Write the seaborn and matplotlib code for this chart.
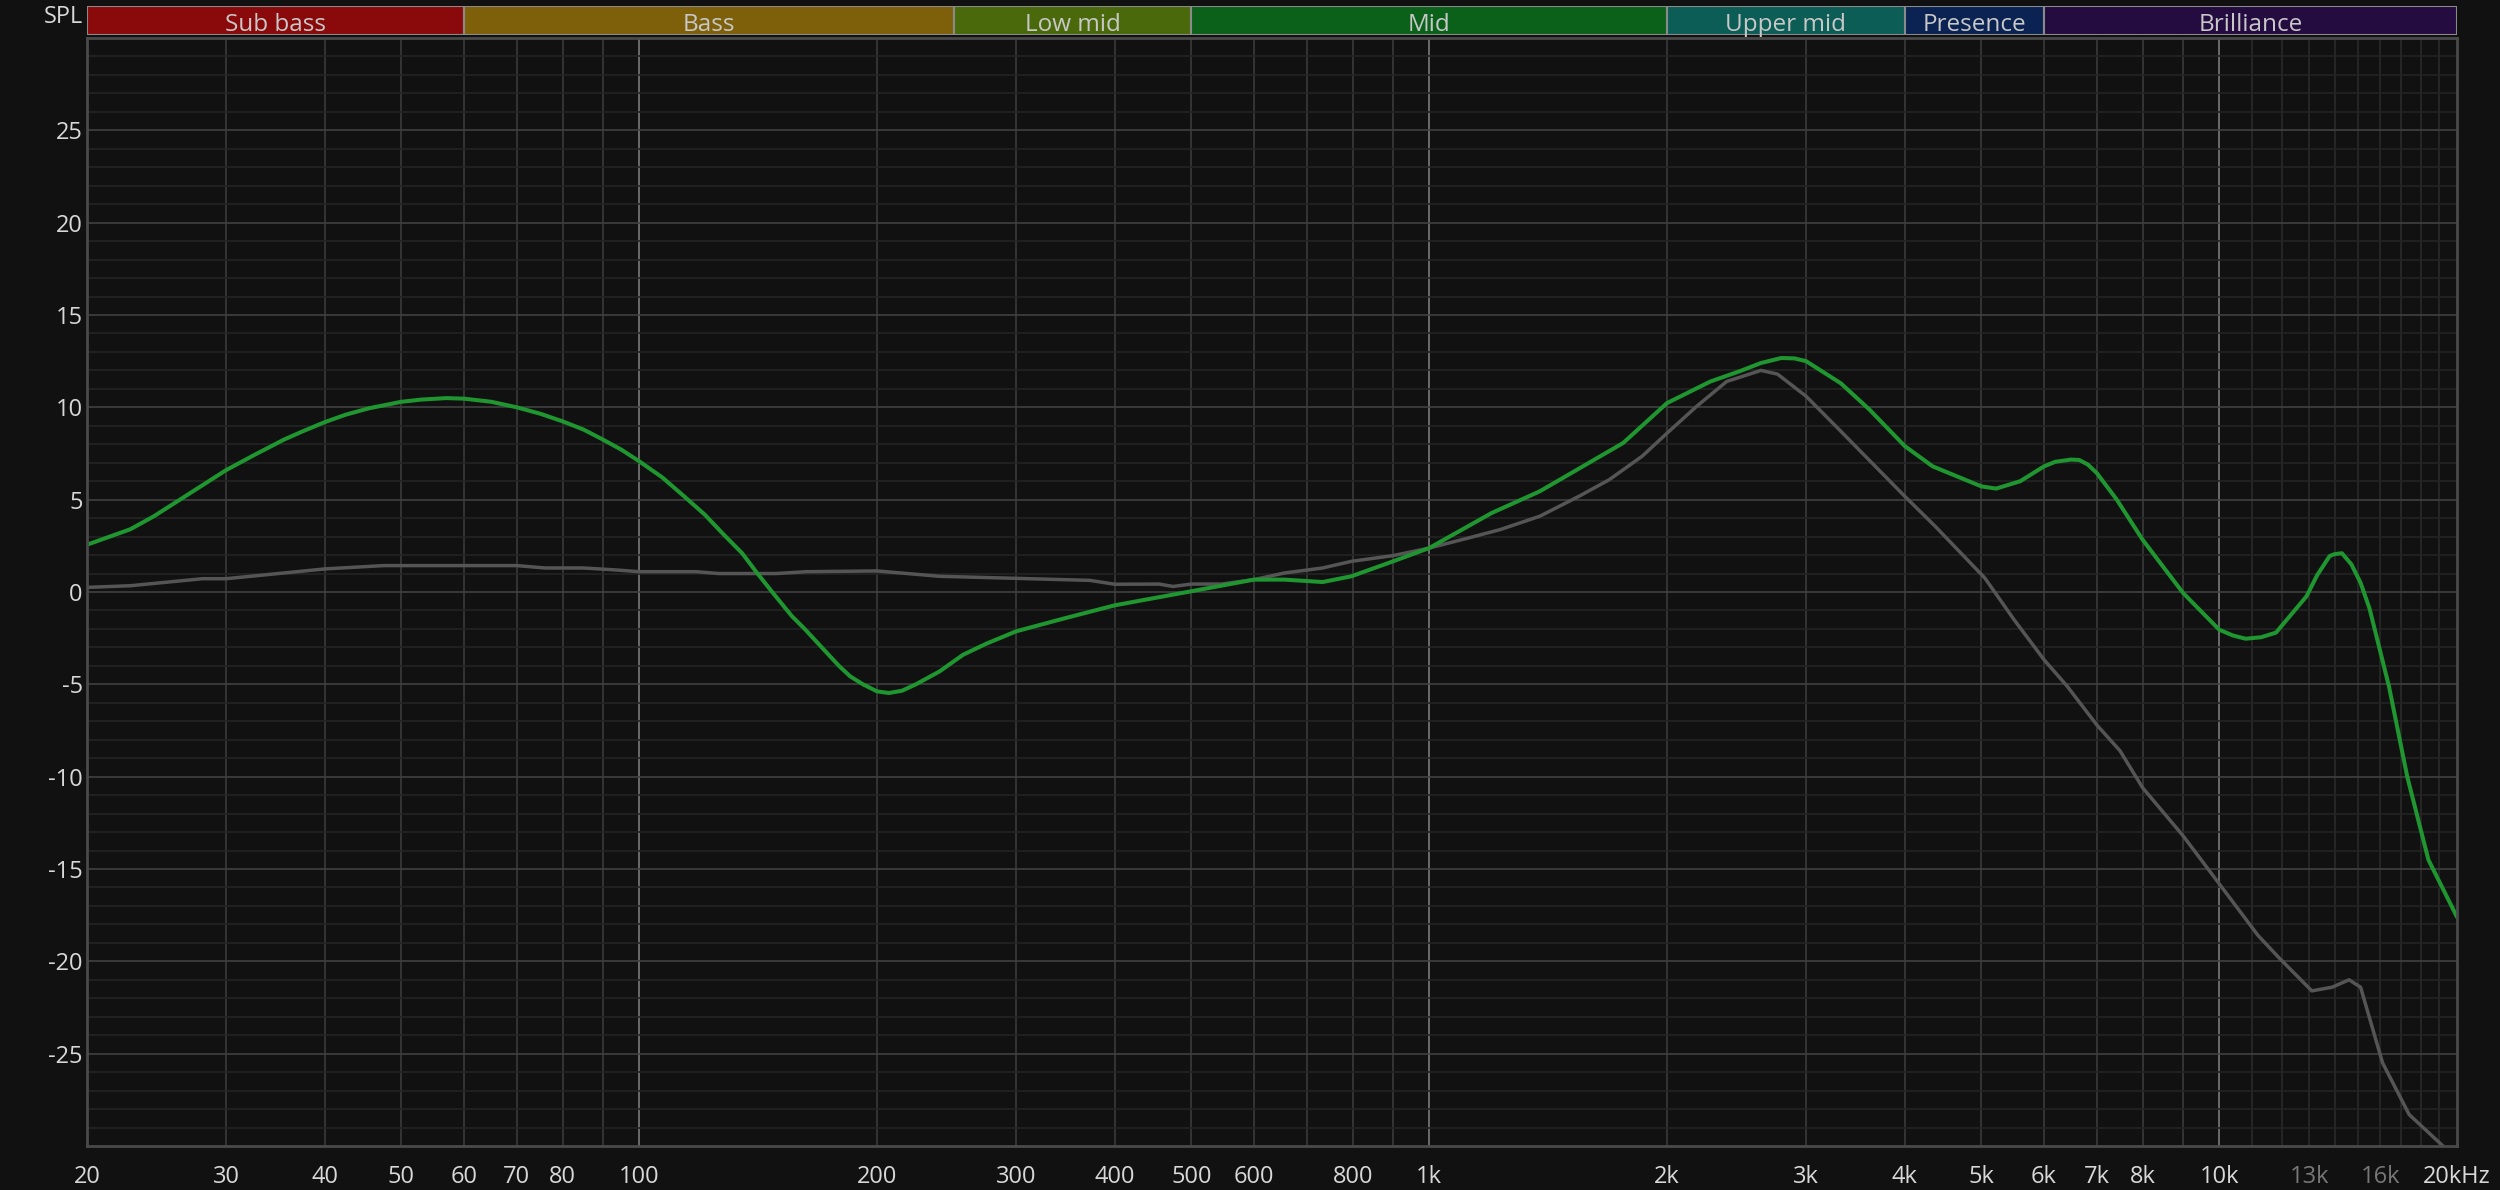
# frequency response chart (dark theme)
import seaborn as sns
import matplotlib.pyplot as plt
import numpy as np

# measured curve (green)
freq_green = [20, 22.7, 24.3, 26, 30, 32.5, 35.5, 37.5, 40, 42.5, 45.5, 50, 53, 57, 60, 65, 70, 75,
              80, 85, 90, 95, 100, 107, 114, 121, 128, 135, 141, 148, 156, 162, 169, 179, 185, 192,
              200, 207, 215, 224, 240, 257, 275, 300, 343, 400, 500, 600, 656, 733, 797, 900,
              1000, 1200, 1380, 1550, 1760, 2000, 2270, 2470, 2630, 2790, 2900, 3000, 3320, 3610,
              4000, 4340, 5000, 5220, 5600, 6000, 6200, 6490, 6650, 6820, 7000, 7420, 8000, 9000,
              10000, 10400, 10800, 11300, 11800, 12900, 13300, 13800, 14000, 14300, 14700, 15100,
              15500, 16400, 17300, 18400, 20000]
spl_green = [2.56, 3.4, 4.1, 4.9, 6.6, 7.4, 8.25, 8.7, 9.2, 9.6, 9.95, 10.3, 10.42, 10.5, 10.47,
             10.3, 10.0, 9.65, 9.24, 8.8, 8.25, 7.7, 7.08, 6.2, 5.18, 4.2, 3.1, 2.1, 1.03, -0.1,
             -1.3, -2.0, -2.85, -4.0, -4.57, -5.0, -5.38, -5.47, -5.35, -5.0, -4.3, -3.4, -2.8,
             -2.13, -1.46, -0.72, 0.04, 0.67, 0.67, 0.54, 0.85, 1.66, 2.38, 4.28, 5.45, 6.7, 8.07,
             10.23, 11.4, 11.95, 12.4, 12.67, 12.65, 12.5, 11.3, 9.87, 7.9, 6.8, 5.72, 5.6, 6.0,
             6.8, 7.05, 7.17, 7.15, 6.9, 6.44, 5.0, 2.83, -0.05, -2.04, -2.35, -2.53, -2.45, -2.2,
             -0.23, 0.9, 1.95, 2.05, 2.1, 1.5, 0.5, -0.9, -5.1, -10.0, -14.5, -17.6]

# reference curve (gray)
freq_gray = [20, 22.7, 28, 30, 40, 47.5, 70, 76, 85, 93, 100, 118, 126, 149, 163, 200, 240, 300,
             372, 400, 455, 474, 500, 546, 600, 656, 733, 797, 900, 1000, 1120, 1230, 1380, 1550,
             1690, 1860, 2000, 2180, 2380, 2630, 2760, 3000, 3320, 3600, 4000, 4370, 5050, 5500,
             6000, 6420, 7000, 7490, 8000, 9000, 10000, 11200, 11900, 13100, 13900, 14600, 15100,
             16100, 17400, 19200, 20000]
spl_gray = [0.25, 0.34, 0.72, 0.72, 1.25, 1.43, 1.43, 1.3, 1.3, 1.2, 1.1, 1.1, 1.0, 1.0, 1.1, 1.14,
            0.85, 0.74, 0.63, 0.42, 0.43, 0.3, 0.43, 0.43, 0.67, 1.03, 1.3, 1.66, 1.97, 2.38, 2.92,
            3.38, 4.1, 5.2, 6.08, 7.35, 8.6, 10.05, 11.4, 12.0, 11.8, 10.6, 8.7, 7.17, 5.18, 3.56,
            0.76, -1.5, -3.66, -5.1, -7.2, -8.6, -10.6, -13.2, -15.8, -18.6, -19.8, -21.6, -21.4,
            -21.0, -21.4, -25.5, -28.3, -30.0, -31.0]

# frequency bands on top
band_names = ["Sub bass", "Bass", "Low mid", "Mid", "Upper mid", "Presence", "Brilliance"]
band_edges = [20, 60, 250, 500, 2000, 4000, 6000, 20000]
band_colors = ["#8a0a0b", "#7f600a", "#4a690b", "#0b611a", "#0b5d55", "#0a2352", "#240b40"]

x_ticks = [20, 30, 40, 50, 60, 70, 80, 100, 200, 300, 400, 500, 600, 800, 1000, 2000, 3000, 4000,
           5000, 6000, 7000, 8000, 10000, 13000, 16000, 20000]
x_labels = ["20", "30", "40", "50", "60", "70", "80", "100", "200", "300", "400", "500", "600",
            "800", "1k", "2k", "3k", "4k", "5k", "6k", "7k", "8k", "10k", "13k", "16k", "20kHz"]
y_ticks = [-25, -20, -15, -10, -5, 0, 5, 10, 15, 20, 25]

sns.set_style("dark")
plt.rcParams['font.family'] = ['Open Sans', 'DejaVu Sans']
plt.rcParams['axes.unicode_minus'] = False

bg = "#111111"
fig = plt.figure(figsize=(25, 11.9), dpi=100, facecolor=bg)
left, right = 87 / 2500, 2457 / 2500
ax = fig.add_axes([left, 44 / 1190, right - left, 1108 / 1190])
ax.set_facecolor(bg)
ax.set_xscale("log")
ax.set_xlim(20, 20000)
ax.set_ylim(-30, 30)

# grid
grid_x = [f * m for m in (10, 100, 1000) for f in range(2, 10)]
for g in grid_x:
    ax.axvline(g, color="#3a3a3a", lw=1.2, zorder=0)
for g in range(11000, 20000, 1000):
    ax.axvline(g, color="#2a2a2a", lw=1.2, zorder=0)
for g in (100, 1000, 10000):
    ax.axvline(g, color="#7a7a7a", lw=1.2, zorder=0)
for v in range(-29, 30):
    ax.axhline(v, color="#404040" if v % 5 == 0 else "#242424", lw=1.2, zorder=0)

sns.lineplot(x=freq_gray, y=spl_gray, ax=ax, color="#555555", lw=2.5, sort=False, estimator=None)
sns.lineplot(x=freq_green, y=spl_green, ax=ax, color="#1f9630", lw=2.9, sort=False, estimator=None)

ax.set_xticks(x_ticks)
ax.set_xticklabels(x_labels)
ax.xaxis.set_minor_locator(plt.NullLocator())
ax.set_yticks(y_ticks)
ax.set_yticklabels([str(t) for t in y_ticks])
ax.tick_params(axis="both", length=0, labelsize=17, colors="#d8d8d8")
ax.tick_params(axis="x", pad=14)
ax.tick_params(axis="y", pad=3)
for lbl in ax.get_xticklabels():
    if lbl.get_text() in ("13k", "16k"):
        lbl.set_color("#777777")
ax.grid(False)
ax.set_xlabel("")
ax.set_ylabel("")
for s in ax.spines.values():
    s.set_visible(True)
    s.set_color("#4a4a4a")
    s.set_linewidth(2)

# band strip
bax = fig.add_axes([left, 1 - 35 / 1190, right - left, 29 / 1190])
bax.set_xscale("log")
bax.set_xlim(20, 20000)
bax.set_ylim(0, 1)
bax.axis("off")
for i, name in enumerate(band_names):
    lo, hi = band_edges[i], band_edges[i + 1]
    bax.axvspan(lo, hi, 0, 1, facecolor=band_colors[i], edgecolor="#8a8a8a", lw=1.5)
    bax.text(np.sqrt(lo * hi), 0.33, name, ha="center", va="center", fontsize=17.5, color="#c8c8c8")

fig.text(83 / 2500, 1 - 17 / 1190, "SPL", ha="right", va="center", fontsize=17, color="#d8d8d8")

fig.savefig("out.png", dpi=100, facecolor=bg)
